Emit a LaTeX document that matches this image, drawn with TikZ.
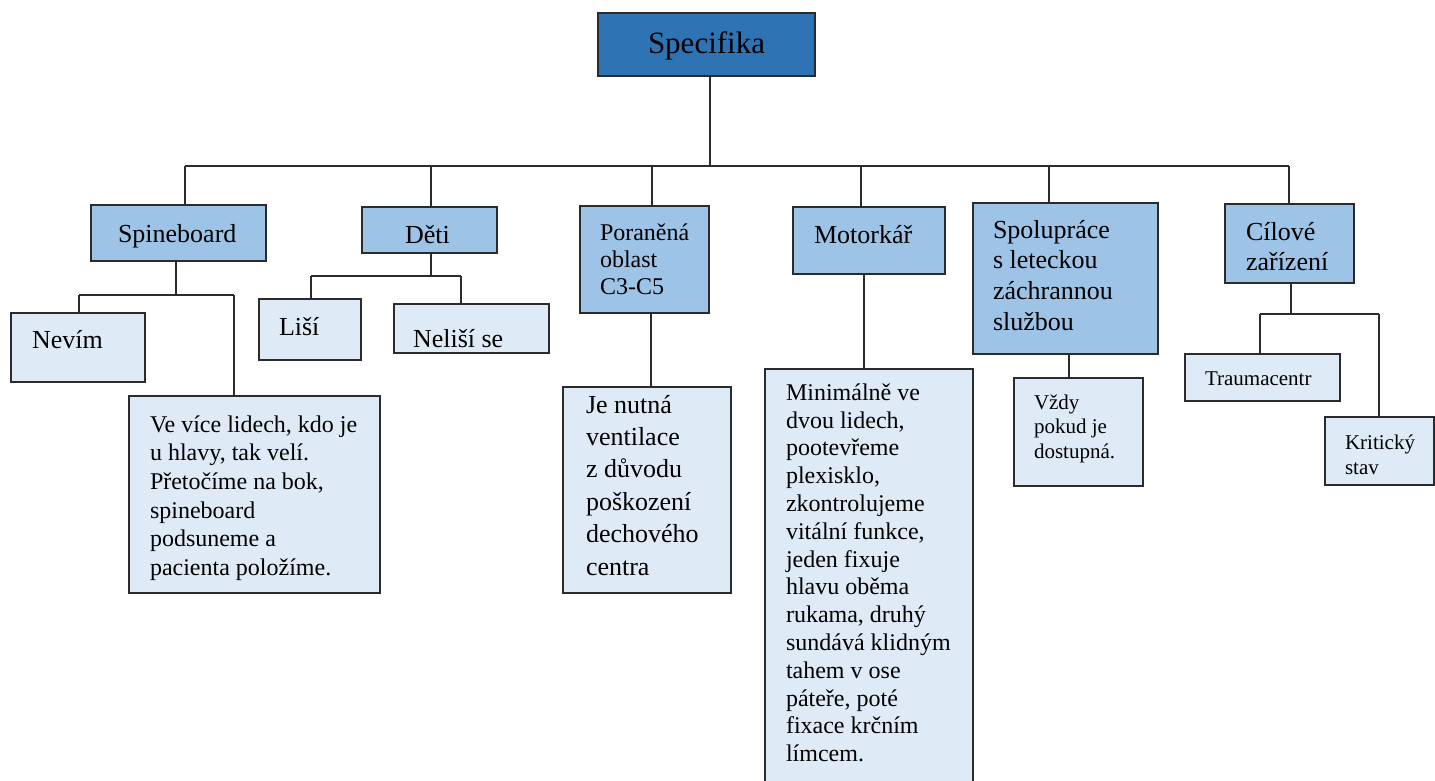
\documentclass[tikz,border=0pt]{standalone}
\usepackage{fontspec}
\setmainfont{Liberation Serif}
\definecolor{cdark}{HTML}{2E74B5}
\definecolor{cmid}{HTML}{9DC3E6}
\definecolor{clight}{HTML}{DEEBF7}
\definecolor{cline}{HTML}{2B2B2B}
\tikzset{
  box/.style={draw=cline, line width=1.5pt, rectangle, inner sep=0pt, outer sep=0pt, anchor=north west},
  topbox/.style={box, fill=cdark},
  midbox/.style={box, fill=cmid},
  lowbox/.style={box, fill=clight},
  txt/.style={inner sep=0pt, outer sep=0pt, anchor=base west, align=left, text=black},
  conn/.style={draw=cline, line width=1.4pt},
}
\newcommand{\fs}[2]{\fontsize{#1}{#2}\selectfont}
\begin{document}
\begin{tikzpicture}[x=1pt,y=-1pt]
\useasboundingbox (0,0) rectangle (1435,781);
\clip (0,0) rectangle (1435,781);
\fill[white] (0,0) rectangle (1435,781);

% boxes
\node[topbox, minimum width=217pt, minimum height=63pt] (spec) at (598,13) {};
\node[midbox, minimum width=175pt, minimum height=56pt] (spine) at (91,205) {};
\node[midbox, minimum width=135pt, minimum height=46pt] (deti) at (362,207) {};
\node[midbox, minimum width=129pt, minimum height=107pt] (por) at (580,206) {};
\node[midbox, minimum width=152pt, minimum height=67pt] (moto) at (793,207) {};
\node[midbox, minimum width=185pt, minimum height=151pt] (spol) at (973,203) {};
\node[midbox, minimum width=129pt, minimum height=79pt] (cil) at (1225,204) {};
\node[lowbox, minimum width=134pt, minimum height=69pt] (nevim) at (11,313) {};
\node[lowbox, minimum width=251pt, minimum height=197pt] (bigspine) at (129,396) {};
\node[lowbox, minimum width=102pt, minimum height=61pt] (lisi) at (259,299) {};
\node[lowbox, minimum width=155pt, minimum height=49pt] (nelisi) at (394,304) {};
\node[lowbox, minimum width=168pt, minimum height=206pt] (porbig) at (563,387) {};
\node[lowbox, minimum width=208pt, minimum height=450pt] (motobig) at (765,369) {};
\node[lowbox, minimum width=129pt, minimum height=108pt] (vzdy) at (1014,378) {};
\node[lowbox, minimum width=155pt, minimum height=47pt] (trauma) at (1185,354) {};
\node[lowbox, minimum width=109pt, minimum height=68pt] (krit) at (1325,417) {};

% texts (multi-line nodes are placed by the baseline of their last line)
\node[txt, font=\fs{31}{36}] (tspec) at (648,54) {Specifika};
\node[txt, font=\fs{26}{31}] (tspine) at (118,242) {Spineboard};
\node[txt, font=\fs{26}{31}] (tdeti) at (405,243) {Děti};
\node[txt, font=\fs{24}{27}] (tpor) at (600,294) {Poraněná\\oblast\\C3-C5};
\node[txt, font=\fs{26}{31}] (tmoto) at (814,243) {Motorkář};
\node[txt, font=\fs{26}{30.8}] (tspol) at (993,330.4) {Spolupráce\\s leteckou\\záchrannou\\službou};
\node[txt, font=\fs{26}{30}] (tcil) at (1246,270) {Cílové\\zařízení};
\node[txt, font=\fs{26}{31}] (tnevim) at (32,348) {Nevím};
\node[txt, font=\fs{26}{31}] (tlisi) at (279,335) {Liší};
\node[txt, font=\fs{26}{31}] (tnelisi) at (413,347) {Neliší se};
\node[txt, font=\fs{24}{28.7}] (tbigspine) at (150,575.5) {Ve více lidech, kdo je\\u hlavy, tak velí.\\Přetočíme na bok,\\spineboard\\podsuneme a\\pacienta položíme.};
\node[txt, font=\fs{26}{32.4}] (tporbig) at (586,575) {Je nutná\\ventilace\\z důvodu\\poškození\\dechového\\centra};
\node[txt, font=\fs{24}{27.8}] (tmotobig) at (786,761.7) {Minimálně ve\\dvou lidech,\\pootevřeme\\plexisklo,\\zkontrolujeme\\vitální funkce,\\jeden fixuje\\hlavu oběma\\rukama, druhý\\sundává klidným\\tahem v ose\\páteře, poté\\fixace krčním\\límcem.};
\node[txt, font=\fs{21}{24.5}] (tvzdy) at (1034,458) {Vždy\\pokud je\\dostupná.};
\node[txt, font=\fs{21}{25}] (ttrauma) at (1205,385) {Traumacentr};
\node[txt, font=\fs{21}{25}] (tkrit) at (1345,474) {Kritický\\stav};

% connector coordinates
\coordinate (bar) at (710,166);
\coordinate (bL) at (185,166);
\coordinate (bR) at (1289,166);
\coordinate (d2) at (431,166);
\coordinate (d3) at (652,166);
\coordinate (d4) at (861,166);
\coordinate (d5) at (1049,166);
\coordinate (s0) at (176,295);
\coordinate (sL) at (79,295);
\coordinate (sR) at (234,295);
\coordinate (t0) at (431,276);
\coordinate (tL) at (311,276);
\coordinate (tR) at (461,276);
\coordinate (p0) at (651,350);
\coordinate (m0) at (864,320);
\coordinate (v0) at (1069,360);
\coordinate (c0) at (1291,314);
\coordinate (cL) at (1260,314);
\coordinate (cR) at (1379,314);

% connectors
\draw[conn] (bar |- spec.south) -- (bar);
\draw[conn] (bL) -- (bR);
\draw[conn] (bL) -- (bL |- spine.north);
\draw[conn] (d2) -- (d2 |- deti.north);
\draw[conn] (d3) -- (d3 |- por.north);
\draw[conn] (d4) -- (d4 |- moto.north);
\draw[conn] (d5) -- (d5 |- spol.north);
\draw[conn] (bR) -- (bR |- cil.north);

\draw[conn] (s0 |- spine.south) -- (s0);
\draw[conn] (sL) -- (sR);
\draw[conn] (sL) -- (sL |- nevim.north);
\draw[conn] (sR) -- (sR |- bigspine.north);

\draw[conn] (t0 |- deti.south) -- (t0);
\draw[conn] (tL) -- (tR);
\draw[conn] (tL) -- (tL |- lisi.north);
\draw[conn] (tR) -- (tR |- nelisi.north);

\draw[conn] (p0 |- por.south) -- (p0 |- porbig.north);
\draw[conn] (m0 |- moto.south) -- (m0 |- motobig.north);
\draw[conn] (v0 |- spol.south) -- (v0 |- vzdy.north);

\draw[conn] (c0 |- cil.south) -- (c0);
\draw[conn] (cL) -- (cR);
\draw[conn] (cL) -- (cL |- trauma.north);
\draw[conn] (cR) -- (cR |- krit.north);
\end{tikzpicture}
\end{document}
